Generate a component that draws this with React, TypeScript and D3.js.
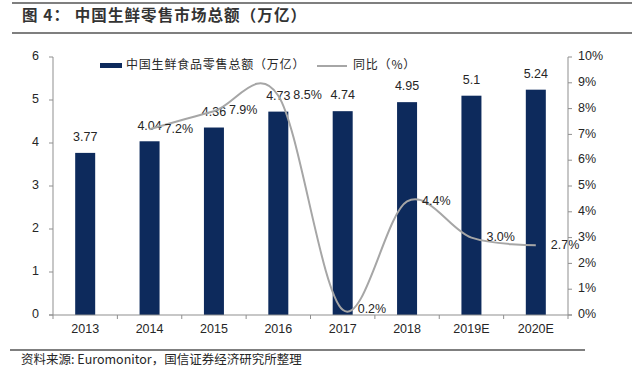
import React from 'react';
import * as d3 from 'd3';

const years: string[] = ['2013', '2014', '2015', '2016', '2017', '2018', '2019E', '2020E'];
const sales: number[] = [3.77, 4.04, 4.36, 4.73, 4.74, 4.95, 5.1, 5.24];
const growthYears: string[] = ['2014', '2015', '2016', '2017', '2018', '2019E', '2020E'];
const growth: number[] = [7.2, 7.9, 8.5, 0.2, 4.4, 3.0, 2.7];
const leftTicks: number[] = [0, 1, 2, 3, 4, 5, 6];
const rightTicks: number[] = [0, 1, 2, 3, 4, 5, 6, 7, 8, 9, 10];

const title = '图 4： 中国生鲜零售市场总额（万亿）';
const source = '资料来源: Euromonitor，国信证券经济研究所整理';
const legendBar = '中国生鲜食品零售总额（万亿）';
const legendLine = '同比（%）';

const W = 640;
const H = 374;
const margin = { top: 57, right: 72, bottom: 59, left: 53 };

const NAVY = '#0d2a5c';
const LINE = '#a6a6a6';
const AXIS = '#8f8f8f';
const TEXT = '#262626';
const LATIN = '"Liberation Sans", Arial, sans-serif';
const CJK = '"Noto Sans CJK SC", "Liberation Sans", sans-serif';

function App() {
    const x = d3.scaleBand()
        .domain(years)
        .range([margin.left, W - margin.right])
        .paddingInner(0)
        .paddingOuter(0);
    const yL = d3.scaleLinear().domain([0, 6]).range([H - margin.bottom, margin.top]);
    const yR = d3.scaleLinear().domain([0, 10]).range([H - margin.bottom, margin.top]);

    const barW = 20;
    const cx = (d: string) => (x(d) as number) + x.bandwidth() / 2;

    // Excel-style smoothed line
    const pts: [number, number][] = growthYears.map((d, i) => [cx(d), yR(growth[i])]);
    const line = d3.line().curve(d3.curveCardinal.tension(0))(pts) || '';

    const x0 = margin.left;
    const x1 = W - margin.right;
    const y0 = H - margin.bottom;
    const bounds = years.map((d) => x(d) as number).concat([x1]);

    return (
        <svg width={W} height={H} style={{ position: 'absolute', left: 0, top: 0, background: '#fff' }}>
            <rect width={W} height={H} fill="#fff" />
            {/* header */}
            <line x1={12} x2={632} y1={3} y2={3} stroke="#555" strokeWidth={1.5} />
            <text x={22} y={17} dominantBaseline="middle" fontFamily={CJK} fontWeight="bold" fontSize={15.5}
                letterSpacing={1.1} fill="#333">{title}</text>
            <line x1={12} x2={632} y1={33} y2={33} stroke="#555" strokeWidth={1.5} />

            {/* bars */}
            {years.map((d, i) => (
                <g key={d}>
                    <rect x={cx(d) - barW / 2} y={yL(sales[i])} width={barW} height={y0 - yL(sales[i])} fill={NAVY} />
                    <text x={cx(d)} y={yL(sales[i]) - 15} textAnchor="middle" dominantBaseline="middle"
                        fontFamily={LATIN} fontSize={12.5} fill={TEXT}>{String(sales[i])}</text>
                </g>
            ))}

            {/* growth line */}
            <path d={line} fill="none" stroke={LINE} strokeWidth={2} />
            {growthYears.map((d, i) => (
                <text key={d} x={cx(d) + 15} y={yR(growth[i])} dominantBaseline="middle"
                    fontFamily={LATIN} fontSize={12.5} fill={TEXT}>{growth[i].toFixed(1) + '%'}</text>
            ))}

            {/* axes */}
            <g stroke={AXIS} strokeWidth={1}>
                <line x1={x0} x2={x0} y1={margin.top} y2={y0} />
                <line x1={x1} x2={x1} y1={margin.top} y2={y0} />
                <line x1={x0 - 4} x2={x1 + 4} y1={y0} y2={y0} />
                {leftTicks.map((t) => <line key={'l' + t} x1={x0 - 4} x2={x0} y1={yL(t)} y2={yL(t)} />)}
                {rightTicks.map((t) => <line key={'r' + t} x1={x1} x2={x1 + 4} y1={yR(t)} y2={yR(t)} />)}
                {bounds.map((b, i) => <line key={'b' + i} x1={b} x2={b} y1={y0} y2={y0 + 4} />)}
            </g>
            {leftTicks.map((t) => (
                <text key={'lt' + t} x={x0 - 14} y={yL(t)} textAnchor="end" dominantBaseline="middle"
                    fontFamily={LATIN} fontSize={12.5} fill={TEXT}>{t}</text>
            ))}
            {rightTicks.map((t) => (
                <text key={'rt' + t} x={x1 + 10} y={yR(t)} dominantBaseline="middle"
                    fontFamily={LATIN} fontSize={12.5} fill={TEXT}>{t + '%'}</text>
            ))}
            {years.map((d) => (
                <text key={'x' + d} x={cx(d)} y={y0 + 15} textAnchor="middle" dominantBaseline="middle"
                    fontFamily={LATIN} fontSize={12.5} fill={TEXT}>{d}</text>
            ))}

            {/* legend */}
            <rect x={100} y={63} width={22} height={5} fill={NAVY} />
            <text x={126} y={66} dominantBaseline="middle" fontFamily={CJK} fontSize={12}
                letterSpacing={0.8} fill={TEXT}>{legendBar}</text>
            <line x1={317} x2={347} y1={66} y2={66} stroke={LINE} strokeWidth={2} />
            <text x={353} y={66} dominantBaseline="middle" fontFamily={CJK} fontSize={12}
                letterSpacing={0.8} fill={TEXT}>{legendLine}</text>

            {/* footer */}
            <line x1={10} x2={585} y1={350} y2={350} stroke="#555" strokeWidth={1.5} />
            <text x={21} y={361} dominantBaseline="middle" fontFamily={CJK} fontSize={12.5} fill={TEXT}>{source}</text>
        </svg>
    );
}

export default App;
